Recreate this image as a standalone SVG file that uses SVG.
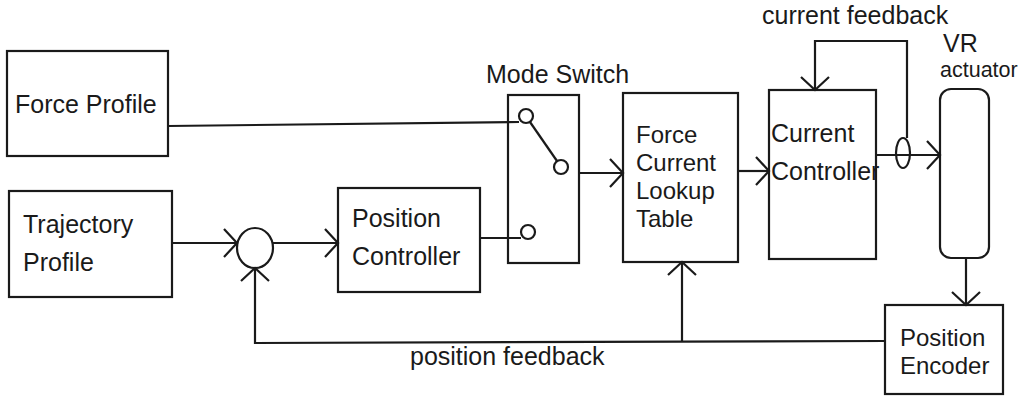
<svg xmlns="http://www.w3.org/2000/svg" width="1027" height="397" viewBox="0 0 1027 397">
<style>
.box{fill:none;stroke:#1a1a1a;stroke-width:2.2}
.ln{fill:none;stroke:#1a1a1a;stroke-width:2.2}
.arr{marker-end:url(#ah)}
text{font-family:"Liberation Sans",Arial,sans-serif;font-size:25px;fill:#1a1a1a}
text.tight{font-size:24px}
</style>
<defs>
<marker id="ah" markerUnits="userSpaceOnUse" markerWidth="32" markerHeight="32" refX="16" refY="16" orient="auto">
<path d="M3 2 L16 16 L3 30" fill="none" stroke="#1a1a1a" stroke-width="2.2"/>
</marker>
</defs>
<rect width="1027" height="397" fill="#ffffff"/>
<g id="force-profile">
<rect class="box" x="7" y="51" width="161" height="105"/>
<text x="15" y="113">Force Profile</text>
</g>
<g id="trajectory-profile">
<rect class="box" x="9" y="191" width="163" height="106"/>
<text x="23" y="233">Trajectory</text>
<text x="23" y="271">Profile</text>
</g>
<g id="summing-junction">
<ellipse class="box" cx="255" cy="248" rx="18" ry="20"/>
</g>
<g id="position-controller">
<rect class="box" x="338" y="188" width="142" height="104"/>
<text x="352" y="227">Position</text>
<text x="352" y="265">Controller</text>
</g>
<g id="mode-switch">
<rect class="box" x="508" y="95" width="71" height="168"/>
<text x="486" y="83">Mode Switch</text>
<circle class="box" cx="526" cy="116" r="7"/>
<circle class="box" cx="561" cy="167" r="7"/>
<circle class="box" cx="528" cy="232" r="7"/>
<line class="ln" x1="530" y1="122" x2="557" y2="161"/>
</g>
<g id="lookup-table">
<rect class="box" x="623" y="93" width="115" height="169"/>
<text class="tight" x="636" y="143">Force</text>
<text class="tight" x="636" y="171">Current</text>
<text class="tight" x="636" y="199">Lookup</text>
<text class="tight" x="636" y="227">Table</text>
</g>
<g id="current-controller">
<rect class="box" x="769" y="90" width="107" height="169"/>
<text x="771" y="142">Current</text>
<text x="771" y="180">Controller</text>
</g>
<g id="current-sensor">
<ellipse class="box" cx="903" cy="153" rx="7" ry="15"/>
</g>
<g id="vr-actuator">
<rect class="box" x="940" y="89" width="49" height="169" rx="11" ry="11"/>
<text x="943" y="52">VR</text>
<text x="940" y="77" style="font-size:21.5px">actuator</text>
</g>
<g id="position-encoder">
<rect class="box" x="885" y="305" width="118" height="89"/>
<text class="tight" x="900" y="346">Position</text>
<text class="tight" x="900" y="374">Encoder</text>
</g>
<g id="connectors">
<polyline class="ln" points="168,126 519,122"/>
<polyline class="ln arr" points="172,243 237,243"/>
<polyline class="ln arr" points="273,243 338,243"/>
<polyline class="ln" points="480,238 521,238"/>
<polyline class="ln arr" points="579,173 623,173"/>
<polyline class="ln arr" points="738,171 769,171"/>
<polyline class="ln arr" points="876,155 940,155"/>
<polyline class="ln arr" points="907,138 907,41 815,41 815,90"/>
<polyline class="ln arr" points="966,258 966,305"/>
<polyline class="ln arr" points="885,341 255,343 255,268"/>
<polyline class="ln arr" points="682,342 682,262"/>
<text x="762" y="24">current feedback</text>
<text x="410" y="365">position feedback</text>
</g>
</svg>
